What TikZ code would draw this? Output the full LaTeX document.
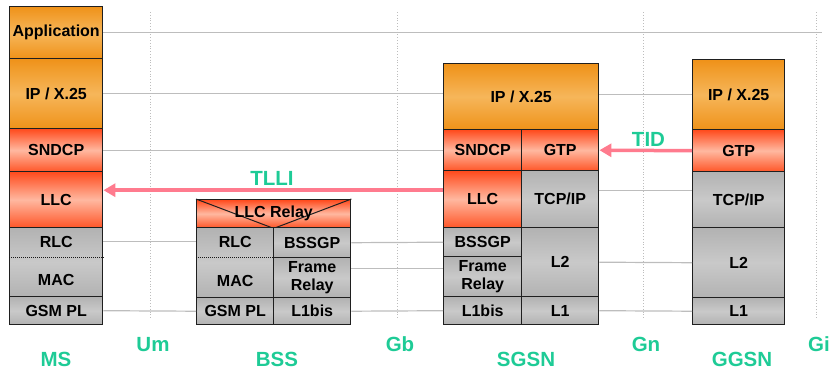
\documentclass[tikz,border=0pt]{standalone}
\usepackage{fontspec}
\setmainfont{Liberation Sans}
\usetikzlibrary{arrows.meta}
\definecolor{orgdark}{HTML}{EF9219}
\definecolor{orglight}{HTML}{F6B65A}
\definecolor{llctop}{HTML}{FF4A1C}
\definecolor{llcbot}{HTML}{FF5628}
\definecolor{llclight}{HTML}{FFB8A0}
\definecolor{phydark}{HTML}{B2B2B2}
\definecolor{phylight}{HTML}{C9C9C9}
\definecolor{ifgreen}{HTML}{1ECB96}
\definecolor{tunpink}{HTML}{FF7B8E}
\definecolor{linkgray}{HTML}{BDBDBD}
\tikzset{
  lay/.style={draw=black!88,line width=1.4pt,inner sep=0pt,anchor=north west,align=center,
    font=\fontsize{16}{18}\selectfont\bfseries},
  sz/.style 2 args={minimum width=#1pt,minimum height=#2pt},
  ipbox/.style={lay,top color=orgdark,bottom color=orgdark,middle color=orglight},
  llcbox/.style={lay,top color=llctop,bottom color=llcbot,middle color=llclight},
  phybox/.style={lay,top color=phydark,bottom color=phydark,middle color=phylight},
  txt/.style={inner sep=0pt,font=\fontsize{16}{18}\selectfont\bfseries},
  iflabel/.style={inner sep=0pt,text=ifgreen,font=\fontsize{20.5}{24}\selectfont\bfseries},
  link/.style={linkgray,line width=1.2pt},
  tunnel/.style={tunpink,line width=3.5pt,-{Triangle[length=12pt,width=13pt]}},
  sep/.style={black!90,line width=1pt,densely dotted}
}
\begin{document}
\begin{tikzpicture}[x=1pt,y=-1pt]
\useasboundingbox (0,0) rectangle (830,373);
\foreach \x/\n in {150/Um,397/Gb,643/Gn,816/Gi}{
  \draw[linkgray,line width=0.8pt,dotted] (\x,12) -- (\x,318);
  \node[iflabel] (if\n) at (\x+3,344.5) {\n};
}
\foreach \x/\n in {56/MS,277/BSS,526/SGSN,742/GGSN}{
  \node[iflabel] (nd\n) at (\x,359.5) {\n};
}
% MS
\node[ipbox,sz={93}{52}] (msApp) at (9,6) {Application};
\node[ipbox,sz={93}{70}] (msIP) at (9,58) {IP / X.25};
\node[llcbox,sz={93}{43}] (msSNDCP) at (9,128) {SNDCP};
\node[llcbox,sz={93}{56}] (msLLC) at (9,171) {LLC};
\node[phybox,sz={93}{69}] (msRLCMAC) at (9,227) {};
\node[txt] (msRLC) at ([yshift=-14.5pt]msRLCMAC.north) {RLC};
\node[txt] (msMAC) at ([yshift=17pt]msRLCMAC.south) {MAC};
\draw[sep] ([yshift=-30pt]msRLCMAC.north west) -- ([yshift=-30pt]msRLCMAC.north east);
\node[phybox,sz={93}{28}] (msGSM) at (9,296) {GSM PL};
% BSS
\node[llcbox,sz={154}{28}] (bssRelay) at (196,199) {};
\draw[black!88,line width=1pt] (bssRelay.north west) -- (bssRelay.south) -- (bssRelay.north east);
\node[txt] (bssRelayTxt) at (bssRelay) {LLC Relay};
\node[phybox,sz={77}{70}] (bssRLCMAC) at (196,227) {};
\node[txt] (bssRLC) at ([yshift=-15pt]bssRLCMAC.north) {RLC};
\node[txt] (bssMAC) at ([yshift=17pt]bssRLCMAC.south) {MAC};
\draw[sep] ([yshift=-30pt]bssRLCMAC.north west) -- ([yshift=-30pt]bssRLCMAC.north east);
\node[phybox,sz={77}{30}] (bssBSSGP) at (273,227) {BSSGP};
\node[phybox,sz={77}{40}] (bssFR) at (273,257) {Frame\\Relay};
\node[phybox,sz={77}{27}] (bssGSM) at (196,297) {GSM PL};
\node[phybox,sz={77}{27}] (bssL1) at (273,297) {L1bis};
% SGSN
\node[ipbox,sz={155}{66}] (sgsnIP) at (443,63) {IP / X.25};
\node[llcbox,sz={78}{41}] (sgsnSNDCP) at (443,129) {SNDCP};
\node[llcbox,sz={77}{41}] (sgsnGTP) at (521,129) {GTP};
\node[llcbox,sz={78}{57}] (sgsnLLC) at (443,170) {LLC};
\node[phybox,sz={77}{57}] (sgsnTCP) at (521,170) {TCP/IP};
\node[phybox,sz={78}{29}] (sgsnBSSGP) at (443,227) {BSSGP};
\node[phybox,sz={78}{40}] (sgsnFR) at (443,256) {Frame\\Relay};
\node[phybox,sz={77}{69}] (sgsnL2) at (521,227) {L2};
\node[phybox,sz={78}{28}] (sgsnL1bis) at (443,296) {L1bis};
\node[phybox,sz={77}{28}] (sgsnL1) at (521,296) {L1};
% GGSN
\node[ipbox,sz={92}{70}] (ggsnIP) at (692,59) {IP / X.25};
\node[llcbox,sz={92}{42}] (ggsnGTP) at (692,129) {GTP};
\node[phybox,sz={92}{56}] (ggsnTCP) at (692,171) {TCP/IP};
\node[phybox,sz={92}{70}] (ggsnL2) at (692,227) {L2};
\node[phybox,sz={92}{27}] (ggsnL1) at (692,297) {L1};
% peer links
\coordinate (appEnd) at (822,31);
\draw[link] (msApp.east) -- (msApp.east -| appEnd);
\draw[link] (msIP.east) -- (msIP.east -| sgsnIP.west);
\draw[link] (msSNDCP.east) -- (sgsnSNDCP.west);
\draw[link] (msRLC -| msRLCMAC.east) -- (msRLC -| bssRLCMAC.west);
\draw[link] (msGSM.east) -- (bssGSM.west);
\draw[link] (bssBSSGP.east) -- (sgsnBSSGP.west);
\draw[link] ([yshift=9pt]bssFR.east) -- ([yshift=9pt]bssFR.east -| sgsnFR.west);
\draw[link] (bssL1.east) -- (sgsnL1bis.west);
\draw[link] (sgsnIP.east |- ggsnIP.west) -- (ggsnIP.west);
\draw[link] ([yshift=9pt]sgsnTCP.east) -- ([yshift=9pt]sgsnTCP.east -| ggsnTCP.west);
\draw[link] (sgsnL2.east) -- (ggsnL2.west);
\draw[link] (sgsnL1.east) -- (ggsnL1.west);
\draw[tunnel] ([yshift=9pt]sgsnLLC.west) -- ([yshift=9pt]sgsnLLC.west -| msLLC.east);
\node[iflabel] (tlli) at (272,178.5) {TLLI};
\draw[tunnel] (ggsnGTP.west) -- (sgsnGTP.east);
\node[iflabel] (tid) at (648.5,139.5) {TID};
\end{tikzpicture}
\end{document}
